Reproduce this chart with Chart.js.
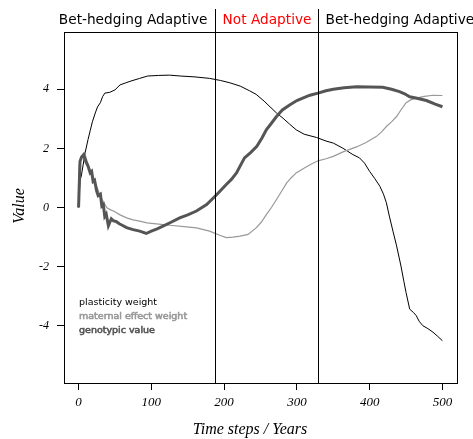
<!DOCTYPE html>
<html>
<head>
<meta charset="utf-8">
<script src="https://cdn.jsdelivr.net/npm/chart.js@4.4.0/dist/chart.umd.min.js"></script>
<style>
  body { margin: 0; background: #fff; }
  #chart { display: block; }
</style>
</head>
<body>
<canvas id="chart" width="473" height="439"></canvas>
<script>
// 축 눈금
const xTickVals = [0, 100, 200, 300, 400, 500]
const yTickVals = [-4, -2, 0, 2, 4]

// 구간 경계 / 구간 이름
const periodBreaks = [188, 329]
const periodLabels = ['Bet-hedging Adaptive', 'Not Adaptive', 'Bet-hedging Adaptive']

// 범례
const seriesLabels = ['plasticity weight', 'maternal effect weight', 'genotypic value']

// plasticity weight
const plasticityT = [0, 2, 4, 9, 13, 16, 19, 23, 26, 30, 33, 36, 43, 50, 57, 65, 72, 84, 95, 110, 125, 140, 160, 180, 195, 208, 222, 235, 244, 255, 263, 272, 281, 290, 299, 310, 327, 340, 350, 363, 377, 386, 393, 400, 407, 414, 419, 423, 427, 432, 437, 443, 447, 450, 455, 460, 464, 468, 473, 480, 487, 493, 500]
const plasticityV = [0, 0.9, 1.1, 1.85, 2.3, 2.6, 2.9, 3.2, 3.4, 3.55, 3.75, 3.87, 3.9, 3.98, 4.15, 4.22, 4.28, 4.37, 4.45, 4.47, 4.48, 4.45, 4.42, 4.37, 4.3, 4.22, 4.11, 3.95, 3.83, 3.6, 3.41, 3.2, 3.02, 2.82, 2.63, 2.48, 2.37, 2.25, 2.18, 2.01, 1.79, 1.68, 1.5, 1.22, 0.98, 0.72, 0.45, 0.16, -0.29, -0.8, -1.3, -1.98, -2.5, -2.88, -3.44, -3.55, -3.66, -3.85, -4.0, -4.1, -4.22, -4.35, -4.51]

// maternal effect weight
const maternalT = [0, 1, 4, 9, 14, 20, 25, 30, 35, 39, 44, 48, 57, 66, 75, 84, 94, 110, 125, 145, 162, 180, 194, 203, 212, 222, 233, 244, 251, 258, 265, 272, 279, 286, 292, 299, 308, 318, 329, 340, 350, 365, 382, 395, 409, 416, 423, 430, 437, 443, 450, 457, 464, 475, 487, 500]
const maternalV = [0, 1.45, 1.73, 1.79, 1.4, 1.05, 0.7, 0.38, 0.15, -0.01, -0.08, -0.12, -0.25, -0.35, -0.42, -0.46, -0.52, -0.56, -0.6, -0.65, -0.69, -0.8, -0.94, -1.02, -1.0, -0.97, -0.91, -0.69, -0.5, -0.24, 0.0, 0.27, 0.55, 0.83, 1.0, 1.17, 1.3, 1.45, 1.58, 1.65, 1.73, 1.9, 2.05, 2.2, 2.4, 2.55, 2.74, 2.9, 3.08, 3.3, 3.55, 3.65, 3.7, 3.76, 3.8, 3.79]

// genotypic value
const genotypicT = [0, 2, 4, 7, 10, 13, 16, 18, 20, 22, 25, 27, 30, 32, 34, 36, 38, 41, 43, 45, 48, 52, 56, 60, 66, 75, 84, 93, 100, 108, 116, 127, 139, 150, 162, 176, 190, 203, 210, 217, 228, 236, 245, 252, 258, 265, 272, 280, 290, 300, 308, 318, 329, 340, 350, 365, 382, 400, 418, 430, 441, 448, 455, 465, 478, 490, 500]
const genotypicV = [0, 1.56, 1.7, 1.79, 1.55, 1.4, 1.17, 1.22, 0.88, 0.92, 0.55, 0.4, 0.45, 0.05, 0.1, -0.3, -0.22, -0.62, -0.5, -0.38, -0.45, -0.48, -0.55, -0.6, -0.68, -0.75, -0.8, -0.88, -0.8, -0.72, -0.63, -0.5, -0.35, -0.25, -0.12, 0.1, 0.44, 0.78, 0.95, 1.17, 1.68, 1.85, 2.07, 2.35, 2.63, 2.85, 3.08, 3.3, 3.47, 3.62, 3.7, 3.8, 3.87, 3.95, 4.0, 4.05, 4.09, 4.08, 4.07, 4.0, 3.92, 3.85, 3.75, 3.7, 3.62, 3.5, 3.41]

const seriesColors = ['#000000', '#999999', '#555555']

function toPoints(ts, vs) {
    return ts.map((t, i) => ({ x: t, y: vs[i] }))
}

const serif = "'Liberation Serif', 'Times New Roman', serif"
const sans = "'DejaVu Sans', sans-serif"

/* 박스, 구간선, 제목, 범례 */
const decoPlugin = {
    id: 'deco',
    afterDraw(chart) {
        const ctx = chart.ctx
        const area = chart.chartArea
        const xs = chart.scales.x
        ctx.save()

        // 플롯 박스
        ctx.strokeStyle = '#000'
        ctx.lineWidth = 1
        ctx.strokeRect(Math.round(area.left) + 0.5, Math.round(area.top) + 0.5,
            Math.round(area.right - area.left), Math.round(area.bottom - area.top))

        // 구간 경계선
        const bx = periodBreaks.map(b => Math.round(xs.getPixelForValue(b)) + 0.5)
        ctx.beginPath()
        for (let x of bx) {
            ctx.moveTo(x, 9)
            ctx.lineTo(x, area.bottom)
        }
        ctx.stroke()

        // 구간 이름
        ctx.font = '13.7px ' + sans
        ctx.textBaseline = 'alphabetic'
        ctx.fillStyle = '#000'
        ctx.textAlign = 'right'
        ctx.fillText(periodLabels[0], bx[0] - 8, 24)
        ctx.fillStyle = '#ff0000'
        ctx.textAlign = 'center'
        ctx.fillText(periodLabels[1], (bx[0] + bx[1]) / 2, 24)
        ctx.fillStyle = '#000'
        ctx.textAlign = 'left'
        ctx.fillText(periodLabels[2], bx[1] + 7, 24)

        // 축 제목
        ctx.font = 'italic 16px ' + serif
        ctx.textAlign = 'center'
        ctx.fillText('Time steps / Years', 250, 434)
        ctx.translate(24, 206)
        ctx.rotate(-Math.PI / 2)
        ctx.fillText('Value', 0, 0)
        ctx.setTransform(1, 0, 0, 1, 0, 0)

        // 범례
        ctx.font = '9.5px ' + sans
        ctx.textAlign = 'left'
        const ly = [305, 318.5, 333]
        seriesLabels.forEach((lab, i) => {
            ctx.fillStyle = seriesColors[i]
            ctx.fillText(lab, 79, ly[i])
            if (i > 0) {
                ctx.strokeStyle = seriesColors[i]
                ctx.lineWidth = 0.6
                ctx.strokeText(lab, 79, ly[i])
            }
        })
        ctx.restore()
    }
}

const ctx = document.getElementById('chart').getContext('2d')

window.lineChart = new Chart(ctx, {
    type: 'line',
    data: {
        datasets: [
            {
                label: seriesLabels[0],
                data: toPoints(plasticityT, plasticityV),
                borderColor: seriesColors[0],
                borderWidth: 1,
                order: 2
            },
            {
                label: seriesLabels[1],
                data: toPoints(maternalT, maternalV),
                borderColor: seriesColors[1],
                borderWidth: 1.2,
                order: 1
            },
            {
                label: seriesLabels[2],
                data: toPoints(genotypicT, genotypicV),
                borderColor: seriesColors[2],
                borderWidth: 3,
                order: 0
            }
        ]
    },
    options: {
        responsive: false,
        animation: false,
        layout: { padding: { top: 32, right: 16, left: 0, bottom: 0 } },
        elements: { point: { radius: 0 }, line: { tension: 0, fill: false } },
        plugins: { legend: { display: false }, tooltip: { enabled: false } },
        scales: {
            x: {
                type: 'linear',
                min: -20,
                max: 520,
                afterFit: s => { s.height = 56 },
                afterBuildTicks: s => { s.ticks = xTickVals.map(v => ({ value: v })) },
                grid: { drawOnChartArea: false, tickLength: 7, color: '#000' },
                border: { display: false },
                ticks: {
                    color: '#000',
                    padding: 5,
                    maxRotation: 0,
                    font: { family: serif, style: 'italic', size: 13 }
                }
            },
            y: {
                type: 'linear',
                min: -5.94,
                max: 5.94,
                afterFit: s => { s.width = 64 },
                afterBuildTicks: s => { s.ticks = yTickVals.map(v => ({ value: v })) },
                grid: { drawOnChartArea: false, tickLength: 7, color: '#000' },
                border: { display: false },
                ticks: {
                    color: '#000',
                    padding: 8,
                    font: { family: serif, style: 'italic', size: 12 }
                }
            }
        }
    },
    plugins: [decoPlugin]
});
</script>
</body>
</html>
